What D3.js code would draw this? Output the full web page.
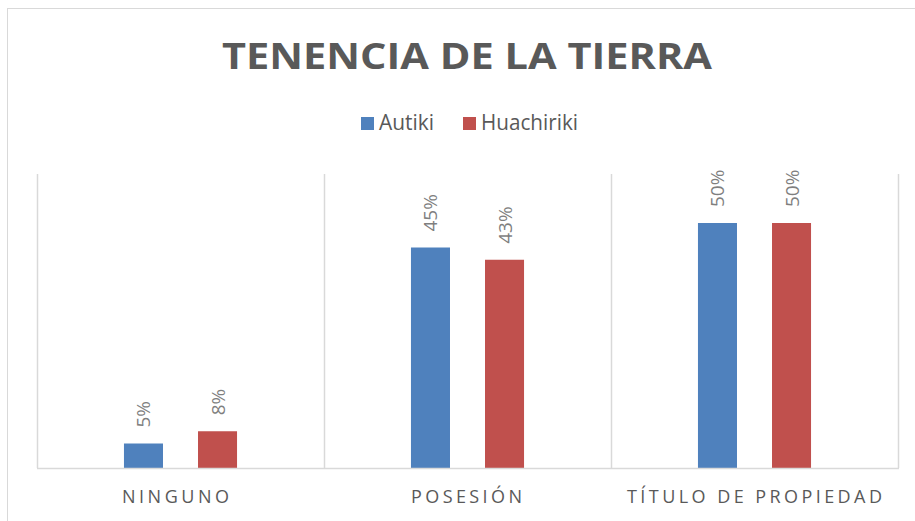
<!DOCTYPE html>
<html>
<head>
  <meta charset="utf-8">
  <title>Tenencia de la tierra</title>
  <script src="https://cdn.jsdelivr.net/npm/d3@7"></script>
  <style>
    body { margin: 0; background: #fff; }
    text { font-family: "Open Sans", sans-serif; }
  </style>
</head>
<body>
  <div id="myChart"></div>
  <script>
    // Data
    const categories = ["NINGUNO", "POSESIÓN", "TÍTULO DE PROPIEDAD"];
    const seriesNames = ["Autiki", "Huachiriki"];
    const autiki = [5, 45, 50];
    const huachiriki = [7.5, 42.5, 50];
    const colors = ["#4F81BD", "#C0504D"];

    const rows = categories.map((c, i) => ({ cat: c, values: [autiki[i], huachiriki[i]] }));

    const width = 915;
    const height = 521;
    const margins = { top: 174, right: 17, bottom: 53, left: 37 };

    const svg = d3.select("#myChart").append("svg")
        .attr("width", width)
        .attr("height", height);

    // chart border
    svg.append("rect")
        .attr("x", 7.5).attr("y", 8.5)
        .attr("width", 920).attr("height", 520)
        .attr("fill", "none")
        .attr("stroke", "#d9d9d9");

    // Scales
    const x = d3.scaleBand()
        .domain(categories)
        .range([margins.left, width - margins.right])
        .padding(0);

    const xInner = d3.scaleBand()
        .domain(seriesNames)
        .range([x.bandwidth() * 0.303, x.bandwidth() * 0.697])
        .paddingInner(0.473);

    const y = d3.scaleLinear()
        .domain([0, 60])
        .range([height - margins.bottom, margins.top]);

    // vertical separators
    const seps = categories.map(c => x(c)).concat([x.range()[1]]);
    svg.selectAll(".sep")
        .data(seps)
        .enter().append("line")
        .attr("class", "sep")
        .attr("x1", d => Math.round(d) + 0.5)
        .attr("x2", d => Math.round(d) + 0.5)
        .attr("y1", margins.top)
        .attr("y2", height - margins.bottom)
        .attr("stroke", "#d9d9d9")
        .attr("stroke-width", 1.5);

    // bars
    const groups = svg.selectAll(".group")
        .data(rows)
        .enter().append("g")
        .attr("class", "group")
        .attr("transform", d => `translate(${x(d.cat)},0)`);

    groups.selectAll("rect")
        .data(d => d.values.map((v, i) => ({ name: seriesNames[i], value: v, i: i })))
        .enter().append("rect")
        .attr("x", d => xInner(d.name))
        .attr("y", d => y(d.value))
        .attr("width", xInner.bandwidth())
        .attr("height", d => y(0) - y(d.value))
        .attr("fill", d => colors[d.i]);

    // data labels (rotated)
    groups.selectAll(".lbl")
        .data(d => d.values.map((v, i) => ({ name: seriesNames[i], value: v })))
        .enter().append("text")
        .attr("class", "lbl")
        .attr("transform", d => `translate(${xInner(d.name) + xInner.bandwidth() / 2 + 7},${y(d.value) - 16}) rotate(-90)`)
        .attr("text-anchor", "start")
        .attr("font-size", 19)
        .attr("fill", "#7f7f7f")
        .text(d => Math.round(d.value) + "%");

    // baseline
    svg.append("line")
        .attr("x1", margins.left)
        .attr("x2", width - margins.right + 1)
        .attr("y1", y(0) + 0.5)
        .attr("y2", y(0) + 0.5)
        .attr("stroke", "#d9d9d9")
        .attr("stroke-width", 1.5);

    // category labels (letter-spaced, trailing space shifts them a little left)
    const catWidths = [107, 111, 255];
    const catShift = [-5, -1, 0];
    svg.selectAll(".cat")
        .data(categories)
        .enter().append("text")
        .attr("class", "cat")
        .attr("x", (d, i) => x(d) + x.bandwidth() / 2 + catShift[i])
        .attr("y", 503)
        .attr("text-anchor", "middle")
        .attr("font-size", 18)
        .attr("fill", "#595959")
        .attr("textLength", (d, i) => catWidths[i])
        .attr("lengthAdjust", "spacing")
        .text(d => d);

    // title
    svg.append("text")
        .attr("x", 467)
        .attr("y", 69)
        .attr("text-anchor", "middle")
        .attr("font-size", 36)
        .attr("font-weight", "bold")
        .attr("fill", "#595959")
        .attr("textLength", 490)
        .attr("lengthAdjust", "spacingAndGlyphs")
        .text("TENENCIA DE LA TIERRA");

    // legend
    const legendX = [361, 463];
    const legendW = [55, 97];
    const legend = svg.selectAll(".legend")
        .data(seriesNames)
        .enter().append("g")
        .attr("class", "legend")
        .attr("transform", (d, i) => `translate(${legendX[i]},117)`);

    legend.append("rect")
        .attr("width", 13)
        .attr("height", 13)
        .attr("fill", (d, i) => colors[i]);

    legend.append("text")
        .attr("x", 18)
        .attr("y", 13)
        .attr("font-size", 21)
        .attr("fill", "#595959")
        .attr("textLength", (d, i) => legendW[i])
        .attr("lengthAdjust", "spacingAndGlyphs")
        .text(d => d);
  </script>
</body>
</html>
